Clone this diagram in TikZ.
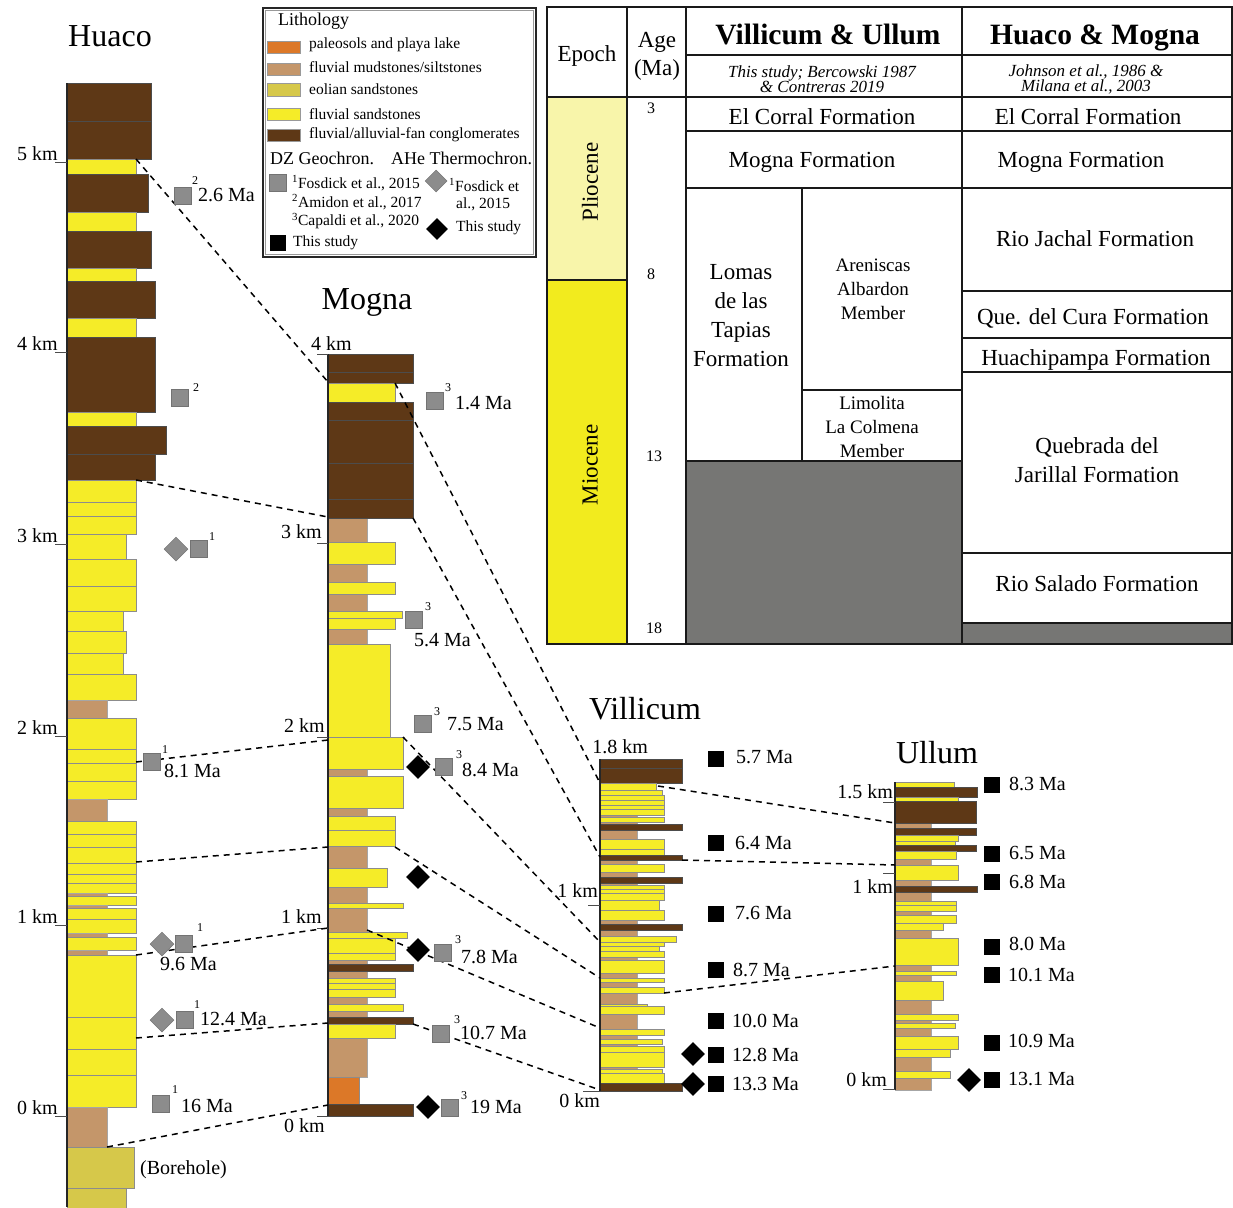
\documentclass[tikz,border=0pt]{standalone}
\usepackage{fontspec}
\setmainfont{Liberation Serif}
\usetikzlibrary{shapes.geometric}
\definecolor{cgc}{RGB}{94,56,22}
\definecolor{ysc}{RGB}{245,236,40}
\definecolor{mdc}{RGB}{196,150,106}
\definecolor{eoc}{RGB}{214,200,74}
\definecolor{orc}{RGB}{220,120,40}
\definecolor{gsqc}{RGB}{140,140,140}
\definecolor{tgray}{RGB}{118,118,116}
\definecolor{plio}{RGB}{248,245,170}
\definecolor{mio}{RGB}{242,235,30}
\begin{document}
\begin{tikzpicture}[x=1pt,y=-1pt,
 cg/.style={fill=cgc,draw=black!70,line width=0.5pt},
 ys/.style={fill=ysc,draw=black!45,line width=0.5pt},
 md/.style={fill=mdc,draw=black!35,line width=0.4pt},
 eo/.style={fill=eoc,draw=black!45,line width=0.5pt},
 orr/.style={fill=orc,draw=black!45,line width=0.5pt},
 axisline/.style={line width=1.4pt,black!85},
 tickline/.style={line width=0.8pt,black!70},
 corr/.style={line width=1.5pt,dash pattern=on 6pt off 5pt},
 gsq/.style={rectangle,fill=gsqc,draw=black!55,line width=0.5pt,minimum size=17pt,inner sep=0pt},
 bsq/.style={rectangle,fill=black,minimum size=16pt,inner sep=0pt},
 gdm/.style={diamond,fill=gsqc,draw=black!55,line width=0.5pt,minimum size=24pt,inner sep=0pt},
 bdm/.style={diamond,fill=black,minimum size=24pt,inner sep=0pt},
 lab/.style={font=\fontsize{20}{24}\selectfont,inner sep=0pt,anchor=west},
 sup/.style={font=\fontsize{12}{14}\selectfont,inner sep=0pt},
 kml/.style={font=\fontsize{20}{24}\selectfont,inner sep=0pt,anchor=base east},
 ttl/.style={font=\fontsize{32}{38}\selectfont,inner sep=0pt,anchor=base},
 lg/.style={font=\fontsize{15.5}{18}\selectfont,inner sep=0pt,anchor=west},
 lgh/.style={font=\fontsize{18}{21}\selectfont,inner sep=0pt,anchor=west},
 sw/.style={draw=black!40,line width=0.5pt},
 tb/.style={font=\fontsize{23}{28}\selectfont,inner sep=0pt,align=center},
 tbl/.style={font=\fontsize{23}{29}\selectfont,inner sep=0pt,align=center},
 tbs/.style={font=\fontsize{19}{24}\selectfont,inner sep=0pt,align=center},
 tbb/.style={font=\fontsize{29.5}{34}\selectfont\bfseries,inner sep=0pt,anchor=base},
 tbi/.style={font=\fontsize{17}{15}\selectfont\itshape,inner sep=0pt,align=center},
 tba/.style={font=\fontsize{16}{18}\selectfont,inner sep=0pt},
 tline/.style={line width=1.8pt,black!90}
]
\useasboundingbox (0,0) rectangle (1233,1207);
\fill[white] (0,0) rectangle (1233,1207);

% ================= TABLE =================
\fill[plio] (547,97) rectangle (627,280);
\fill[mio] (547,280) rectangle (627,644);
\fill[tgray] (686,461) rectangle (962,644);
\fill[tgray] (962,623) rectangle (1233,644);
\draw[tline] (547,7) rectangle (1232,644);
\draw[tline] (627,7) -- (627,644);
\draw[tline] (686,7) -- (686,644);
\draw[tline] (962,7) -- (962,644);
\draw[tline] (802,188) -- (802,461);
\draw[tline] (686,55) -- (1233,55);
\draw[tline] (547,97) -- (1233,97);
\draw[tline] (686,131) -- (1233,131);
\draw[tline] (686,188) -- (1233,188);
\draw[tline] (547,280) -- (627,280);
\draw[tline] (802,390) -- (962,390);
\draw[tline] (686,461) -- (962,461);
\foreach \yy in {291,338,372,553,623} \draw[tline] (962,\yy) -- (1233,\yy);

\node[tb,anchor=base] (tep) at (587,61) {Epoch};
\node[tb] (tage) at (657,56) {Age\\(Ma)};
\node[tbb] (tvu) at (828,45) {Villicum \& Ullum};
\node[tbb] (thm) at (1095,45) {Huaco \& Mogna};
\node[tbi] (tvur) at (822,79) {This study; Bercowski 1987\\\& Contreras 2019};
\node[tbi] (thmr) at (1086,79) {Johnson et al., 1986 \&\\Milana et al., 2003};
\node[tb] (tec1) at (822,117) {El Corral Formation};
\node[tb] (tec2) at (1088,117) {El Corral Formation};
\node[tb,anchor=base] (tmf1) at (812,167) {Mogna Formation};
\node[tb,anchor=base] (tmf2) at (1081,167) {Mogna Formation};
\node[tbl] (tlom) at (741,316) {Lomas\\de las\\Tapias\\Formation};
\node[tbs] (tare) at (873,289) {Areniscas\\Albardon\\Member};
\node[tbs] (tlim) at (872,427) {Limolita\\La Colmena\\Member};
\node[tb] (trj) at (1095,239) {Rio Jachal Formation};
\node[tb] (tqc) at (1093,318) {Que. del Cura Formation};
\node[tb,anchor=base] (thp) at (1096,365) {Huachipampa Formation};
\node[tbl] (tqj) at (1097,460) {Quebrada del\\Jarillal Formation};
\node[tb] (trs) at (1097,584) {Rio Salado Formation};
\node[tb,rotate=90] (tpl) at (590,182) {Pliocene};
\node[tb,rotate=90] (tmi) at (590,465) {Miocene};
\node[tba] (ta3) at (651,108) {3};
\node[tba] (ta8) at (651,274) {8};
\node[tba] (ta13) at (654,456) {13};
\node[tba] (ta18) at (654,628) {18};

% ================= LEGEND =================
\draw[line width=1.5pt,black!85] (263,8) rectangle (536,257);
\draw[line width=0.6pt,black!40] (265.5,10.5) rectangle (533.5,254.5);
\node[lgh] (lgt) at (278,21) {Lithology};
\draw[sw,fill=orc] (267,41) rectangle (300,53);
\draw[sw,fill=mdc] (267,63) rectangle (300,75);
\draw[sw,fill=eoc] (267,83) rectangle (300,96);
\draw[sw,fill=ysc] (267,108) rectangle (300,120);
\draw[sw,fill=cgc] (267,129) rectangle (300,141);
\node[lg] (lg1) at (309,45) {paleosols and playa lake};
\node[lg] (lg2) at (309,67) {fluvial mudstones/siltstones};
\node[lg] (lg3) at (309,89) {eolian sandstones};
\node[lg] (lg4) at (309,114) {fluvial sandstones};
\node[lg] (lg5) at (309,135) {fluvial/alluvial-fan conglomerates};
\node[lgh] (lgdz) at (270,158) {DZ Geochron.};
\node[lgh] (lgah) at (391,158) {AHe Thermochron.};
\node[gsq] (lgs1) at (278,183) {};
\node[lg] (lgf) at (292,183) {\textsuperscript{1}Fosdick et al., 2015};
\node[lg] (lga) at (292,202) {\textsuperscript{2}Amidon et al., 2017};
\node[lg] (lgc) at (292,221) {\textsuperscript{3}Capaldi et al., 2020};
\node[bsq] (lgs2) at (278,243) {};
\node[lg] (lgts) at (293,243) {This study};
\node[gdm,minimum size=22pt] (lgd1) at (436,181) {};
\node[lg] (lgf2) at (449,185) {\textsuperscript{1}Fosdick et};
\node[lg] (lgf3) at (456,204) {al., 2015};
\node[bdm,minimum size=22pt] (lgd2) at (437,229) {};
\node[lg] (lgts2) at (456,228) {This study};

% ================= TITLES =================
\node[ttl] (thu) at (110,47) {Huaco};
\node[ttl] (tmo) at (367,309) {Mogna};
\node[ttl] (tvi) at (645,719) {Villicum};
\node[ttl] (tul) at (937,763) {Ullum};

% ================= HUACO =================
\foreach \a/\b/\r/\s in {83/121/151/cg,121/159/151/cg,159/174/136/ys,174/212/148/cg,212/231/136/ys,231/268/151/cg,268/281/136/ys,281/318/155/cg,318/337/136/ys,337/412/155/cg,412/426/136/ys,426/454/166/cg,454/480/155/cg,
480/502/136/ys,502/516/136/ys,516/534/136/ys,534/559/126/ys,559/586/136/ys,586/611/136/ys,611/631/123/ys,631/653/126/ys,653/674/123/ys,674/700/136/ys,700/718/107/md,718/749/136/ys,749/763/136/ys,763/781/136/ys,781/799/136/ys,799/821/107/md,821/834/136/ys,834/847/136/ys,847/863/136/ys,863/874/136/ys,874/883/136/ys,883/893/136/ys,893/896/107/md,896/905/136/ys,905/908/107/md,908/919/136/ys,919/933/136/ys,933/937/107/md,937/950/136/ys,950/955/107/md,955/1017/136/ys,1017/1049/136/ys,1049/1075/136/ys,1075/1107/136/ys,1107/1147/107/md,1147/1188/134/eo,1188/1210/126/eo}
  \draw[\s] (67,\a) rectangle (\r,\b);
\draw[axisline] (67,83) -- (67,1207);
\foreach \t/\k in {162/5,352/4,544/3,736/2,925/1,1116/0} {
  \draw[tickline] (55,\t) -- (67,\t);
  \node[kml] (hk\k) at (58,\t-2) {\k{} km};
}

% ================= MOGNA =================
\draw[md] (328,518) rectangle (367,1077);
\foreach \a/\b/\r/\s in {354/372/413/cg,372/383/413/cg,383/402/395/ys,402/420/413/cg,420/463/413/cg,463/499/413/cg,499/518/413/cg,542/564/395/ys,582/594/395/ys,611/618/402/ys,618/629/395/ys,644/737/390/ys,737/769/403/ys,776/808/403/ys,816/830/395/ys,830/846/395/ys,868/887/387/ys,903/908/403/ys,932/938/407/ys,938/953/395/ys,953/960/395/ys,964/971/413/cg,978/983/395/ys,983/989/395/ys,989/997/395/ys,1004/1011/403/ys,1017/1024/413/cg,1024/1038/395/ys,1077/1104/359/orr,1104/1116/413/cg}
  \draw[\s] (328,\a) rectangle (\r,\b);
\draw[axisline] (328,354) -- (328,1116);
\foreach \t in {354,543,737,928,1116} \draw[tickline] (317,\t) -- (328,\t);
\node[kml] (mk4) at (352,350) {4 km};
\node[kml] (mk3) at (322,538) {3 km};
\node[kml] (mk2) at (325,732) {2 km};
\node[kml] (mk1) at (322,923) {1 km};
\node[kml] (mk0) at (325,1132) {0 km};

% ================= VILLICUM =================
\draw[md] (600,783) rectangle (637,1083);
\foreach \a/\b/\r/\s in {759/768/682/cg,768/783/682/cg,783/790/656/ys,790/795/662/ys,795/800/664/ys,800/805/664/ys,805/809/664/ys,809/815/664/ys,817/822/664/ys,824/830/682/cg,839/849/664/ys,849/855/664/ys,855/860/682/cg,864/872/664/ys,877/883/682/cg,885/889/664/ys,889/893/664/ys,893/900/664/ys,900/910/659/ys,910/920/664/ys,924/930/682/cg,936/942/676/ys,942/946/664/ys,946/951/659/ys,951/957/664/ys,960/973/664/ys,978/982/664/ys,987/993/664/ys,1004/1006/647/ys,1006/1014/664/ys,1029/1035/664/ys,1039/1044/662/ys,1046/1052/664/ys,1052/1067/664/ys,1069/1073/662/ys,1073/1083/664/ys,1083/1091/682/cg}
  \draw[\s] (600,\a) rectangle (\r,\b);
\draw[axisline] (600,759) -- (600,1091);
\draw[tickline] (588,905) -- (600,905);
\draw[tickline] (583,1091) -- (600,1091);
\node[kml] (vk18) at (648,753) {1.8 km};
\node[kml] (vk1) at (598,897) {1 km};
\node[kml] (vk0) at (600,1107) {0 km};

% ================= ULLUM =================
\draw[md] (895,823) rectangle (931,1090);
\foreach \a/\b/\r/\s in {782/787/954/ys,787/797/977/cg,797/801/958/ys,801/823/976/cg,828/835/976/cg,835/841/958/ys,841/845/955/ys,845/851/976/cg,851/859/956/ys,865/880/958/ys,886/892/977/cg,901/905/956/ys,905/911/956/ys,915/923/956/ys,923/930/943/ys,938/965/958/ys,971/975/956/ys,981/1000/943/ys,1014/1020/958/ys,1023/1028/955/ys,1036/1049/958/ys,1049/1057/950/ys,1071/1078/950/ys}
  \draw[\s] (895,\a) rectangle (\r,\b);
\draw[axisline] (895,782) -- (895,1090);
\draw[tickline] (883,802) -- (895,802);
\draw[tickline] (883,873) -- (895,873);
\draw[tickline] (883,1089) -- (895,1089);
\node[kml] (uk15) at (893,798) {1.5 km};
\node[kml] (uk1) at (893,893) {1 km};
\node[kml] (uk0) at (887,1086) {0 km};

% ================= CORRELATION LINES =================
\coordinate (H1) at (136,159); \coordinate (H2) at (136,480);
\coordinate (H3) at (136,762); \coordinate (H4) at (136,862);
\coordinate (H5) at (136,955); \coordinate (H6) at (136,1038);
\coordinate (H7) at (107,1147);
\coordinate (M1) at (328,382); \coordinate (M2) at (328,517);
\coordinate (M3) at (328,740); \coordinate (M4) at (328,847);
\coordinate (M5) at (328,928); \coordinate (M6) at (328,1023);
\coordinate (M7) at (328,1105);
\coordinate (Mr1) at (395,383); \coordinate (Mr2) at (413,518);
\coordinate (Mr3) at (403,737); \coordinate (Mr4) at (395,847);
\coordinate (Mr5) at (367,930); \coordinate (Mr6) at (413,1024);
\coordinate (V1) at (600,783); \coordinate (V2) at (600,857);
\coordinate (V3) at (600,942); \coordinate (V4) at (600,978);
\coordinate (V5) at (600,1028); \coordinate (V6) at (600,1090);
\coordinate (Vr1) at (658,786); \coordinate (Vr2) at (682,860);
\coordinate (Vr3) at (664,993);
\coordinate (U1) at (895,823); \coordinate (U2) at (895,865);
\coordinate (U3) at (895,966);
\draw[corr] (H1) -- (M1);
\draw[corr] (H2) -- (M2);
\draw[corr] (H3) -- (M3);
\draw[corr] (H4) -- (M4);
\draw[corr] (H5) -- (M5);
\draw[corr] (H6) -- (M6);
\draw[corr] (H7) -- (M7);
\draw[corr] (Mr1) -- (V1);
\draw[corr] (Mr2) -- (V2);
\draw[corr] (Mr3) -- (V3);
\draw[corr] (Mr4) -- (V4);
\draw[corr] (Mr5) -- (V5);
\draw[corr] (Mr6) -- (V6);
\draw[corr] (Vr1) -- (U1);
\draw[corr] (Vr2) -- (U2);
\draw[corr] (Vr3) -- (U3);

% ================= HUACO MARKERS =================
\node[gsq] (hs1) at (183,196) {};
\node[sup] (hs1s) at (195,181) {2};
\node[lab] (hs1l) at (198,195) {2.6 Ma};
\node[gsq] (hs2) at (180,398) {};
\node[sup] (hs2s) at (196,388) {2};
\node[gdm] (hd3) at (176,549) {};
\node[gsq] (hs3) at (199,549) {};
\node[sup] (hs3s) at (212,537) {1};
\node[gsq] (hs4) at (152,762) {};
\node[sup] (hs4s) at (165,750) {1};
\node[lab] (hs4l) at (164,771) {8.1 Ma};
\node[gdm] (hd5) at (162,944) {};
\node[gsq] (hs5) at (184,944) {};
\node[sup] (hs5s) at (200,928) {1};
\node[lab] (hs5l) at (160,964) {9.6 Ma};
\node[gdm] (hd6) at (162,1020) {};
\node[gsq] (hs6) at (185,1020) {};
\node[sup] (hs6s) at (197,1005) {1};
\node[lab] (hs6l) at (200,1019) {12.4 Ma};
\node[gsq] (hs7) at (161,1104) {};
\node[sup] (hs7s) at (175,1090) {1};
\node[lab] (hs7l) at (181,1106) {16 Ma};
\node[lab] (hbh) at (140,1170) {(Borehole)};

% ================= MOGNA MARKERS =================
\node[gsq] (ms1) at (435,401) {};
\node[sup] (ms1s) at (448,388) {3};
\node[lab] (ms1l) at (455,403) {1.4 Ma};
\node[gsq] (ms2) at (414,620) {};
\node[sup] (ms2s) at (428,607) {3};
\node[lab] (ms2l) at (414,640) {5.4 Ma};
\node[gsq] (ms3) at (423,724) {};
\node[sup] (ms3s) at (437,712) {3};
\node[lab] (ms3l) at (447,724) {7.5 Ma};
\node[bdm] (md4) at (418,767) {};
\node[gsq] (ms4) at (444,767) {};
\node[sup] (ms4s) at (459,755) {3};
\node[lab] (ms4l) at (462,770) {8.4 Ma};
\node[bdm] (md5) at (418,877) {};
\node[bdm] (md6) at (418,950) {};
\node[gsq] (ms6) at (443,953) {};
\node[sup] (ms6s) at (458,940) {3};
\node[lab] (ms6l) at (461,957) {7.8 Ma};
\node[gsq] (ms7) at (441,1034) {};
\node[sup] (ms7s) at (457,1020) {3};
\node[lab] (ms7l) at (460,1033) {10.7 Ma};
\node[bdm] (md8) at (428,1107) {};
\node[gsq] (ms8) at (450,1108) {};
\node[sup] (ms8s) at (464,1096) {3};
\node[lab] (ms8l) at (470,1107) {19 Ma};

% ================= VILLICUM MARKERS =================
\node[bsq] (vs1) at (716,759) {};
\node[lab] (vs1l) at (736,757) {5.7 Ma};
\node[bsq] (vs2) at (716,843) {};
\node[lab] (vs2l) at (735,843) {6.4 Ma};
\node[bsq] (vs3) at (716,914) {};
\node[lab] (vs3l) at (735,913) {7.6 Ma};
\node[bsq] (vs4) at (716,970) {};
\node[lab] (vs4l) at (733,970) {8.7 Ma};
\node[bsq] (vs5) at (716,1021) {};
\node[lab] (vs5l) at (732,1021) {10.0 Ma};
\node[bdm] (vd6) at (693,1054) {};
\node[bsq] (vs6) at (716,1055) {};
\node[lab] (vs6l) at (732,1055) {12.8 Ma};
\node[bdm] (vd7) at (693,1084) {};
\node[bsq] (vs7) at (716,1084) {};
\node[lab] (vs7l) at (732,1084) {13.3 Ma};

% ================= ULLUM MARKERS =================
\node[bsq] (us1) at (992,785) {};
\node[lab] (us1l) at (1009,784) {8.3 Ma};
\node[bsq] (us2) at (992,854) {};
\node[lab] (us2l) at (1009,853) {6.5 Ma};
\node[bsq] (us3) at (992,882) {};
\node[lab] (us3l) at (1009,882) {6.8 Ma};
\node[bsq] (us4) at (992,947) {};
\node[lab] (us4l) at (1009,944) {8.0 Ma};
\node[bsq] (us5) at (992,975) {};
\node[lab] (us5l) at (1008,975) {10.1 Ma};
\node[bsq] (us6) at (992,1043) {};
\node[lab] (us6l) at (1008,1041) {10.9 Ma};
\node[bdm] (ud7) at (969,1080) {};
\node[bsq] (us7) at (992,1080) {};
\node[lab] (us7l) at (1008,1079) {13.1 Ma};
\end{tikzpicture}
\end{document}
